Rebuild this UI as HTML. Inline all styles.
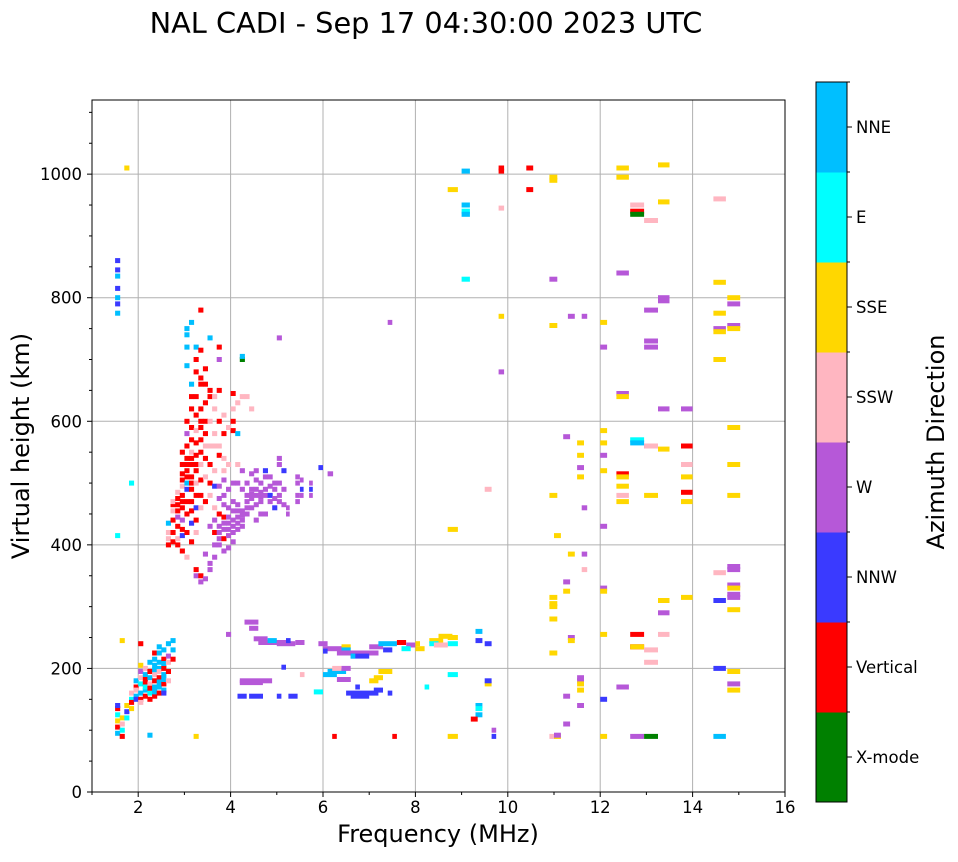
<!DOCTYPE html>
<html><head><meta charset="utf-8"><style>
body{margin:0;background:#fff;}
svg text{font-family:"DejaVu Sans","Liberation Sans",sans-serif;}
</style></head><body>
<svg id="chart" width="958" height="857" xmlns="http://www.w3.org/2000/svg">
<text x="426" y="33" font-size="28.8" text-anchor="middle">NAL CADI - Sep 17 04:30:00 2023 UTC</text>
<g id="grid"></g>
<g id="marks"></g>
<rect x="92" y="100" width="693" height="692" fill="none" stroke="#000" stroke-width="1"/>
<g id="axes"></g>
<text x="438" y="842" font-size="24" text-anchor="middle">Frequency (MHz)</text>
<text transform="translate(29,446) rotate(-90)" font-size="24" text-anchor="middle">Virtual height (km)</text>
<g id="cbar"></g>
<text transform="translate(944,442) rotate(-90)" font-size="24" text-anchor="middle">Azimuth Direction</text>
</svg>
<script>
const dirLabels=["X-mode","Vertical","NNW","W","SSW","SSE","E","NNE"];
const dirColors=["#008000","#ff0000","#3a3aff","#b658d8","#ffb6c1","#ffd700","#00ffff","#00bfff"];
const xTicks=[2,4,6,8,10,12,14,16];
const yTicks=[0,200,400,600,800,1000];
// point echoes grouped by frequency: [freq, spanMHz, [[height, dirIndex],...]]
const echoGroups=[
[1.5,0.11,[[95,7],[105,1],[115,5],[125,6],[135,1],[140,2],[775,7],[790,2],[800,7],[815,2],[835,7],[845,2],[860,2],[415,6]]],
[1.6,0.11,[[100,6],[110,4],[120,5],[90,1],[245,5]]],
[1.7,0.11,[[130,2],[120,6],[140,5],[1010,5]]],
[1.8,0.11,[[135,5],[150,6],[145,1],[160,4],[500,6]]],
[1.9,0.11,[[155,7],[170,1],[165,4],[150,2],[180,7]]],
[2.0,0.11,[[150,1],[160,7],[175,6],[185,4],[195,3],[205,5],[145,4],[240,1]]],
[2.1,0.11,[[155,1],[165,7],[175,1],[190,7],[200,4],[170,6],[182,1]]],
[2.2,0.11,[[150,1],[160,6],[175,4],[185,7],[195,1],[210,7],[92,7],[168,1]]],
[2.3,0.11,[[155,1],[170,7],[180,1],[190,4],[205,7],[215,7],[225,1],[162,7],[198,7]]],
[2.4,0.11,[[160,1],[170,7],[185,1],[200,7],[210,7],[225,7],[235,7],[195,4],[178,7]]],
[2.5,0.11,[[165,7],[175,1],[190,7],[215,1],[230,7],[160,2],[200,1],[182,7],[208,7]]],
[2.6,0.11,[[180,4],[195,1],[210,4],[240,7],[220,3],[400,1],[410,4],[420,4],[435,7]]],
[2.7,0.11,[[215,1],[230,7],[245,7],[405,1],[420,1],[440,1],[455,4],[465,1],[470,4]]],
[2.8,0.11,[[400,1],[410,4],[430,1],[445,3],[455,1],[475,1],[485,4],[465,1]]],
[2.9,0.11,[[390,1],[415,2],[425,1],[440,3],[460,1],[480,1],[495,4],[505,1],[515,1],[530,1],[550,1],[470,1]]],
[3.0,0.11,[[380,4],[420,1],[450,1],[470,1],[490,2],[500,7],[520,1],[540,1],[560,1],[580,3],[600,1],[690,7],[720,7],[740,7],[750,7],[510,1],[530,1]]],
[3.1,0.11,[[405,1],[435,2],[455,1],[470,1],[490,1],[510,1],[530,1],[550,4],[570,1],[590,1],[620,1],[640,1],[660,7],[760,7],[500,1],[540,1]]],
[3.2,0.11,[[350,3],[360,1],[420,4],[440,1],[460,2],[480,1],[500,4],[520,1],[545,1],[565,1],[585,4],[610,1],[640,1],[680,1],[700,1],[720,7],[90,5],[530,1]]],
[3.3,0.11,[[350,1],[340,3],[460,4],[480,1],[505,1],[530,4],[550,1],[570,1],[600,1],[620,1],[660,1],[670,1],[715,1],[780,1],[590,1]]],
[3.4,0.11,[[345,3],[385,3],[470,1],[510,4],[540,1],[560,4],[580,1],[600,1],[630,1],[660,1],[685,1]]],
[3.5,0.11,[[360,3],[370,3],[430,3],[480,4],[500,1],[530,1],[560,4],[600,4],[640,1],[650,1],[735,7]]],
[3.6,0.11,[[380,3],[400,3],[420,1],[440,3],[460,4],[495,2],[520,4],[560,4],[580,4],[620,4],[640,4]]],
[3.7,0.11,[[400,3],[410,3],[430,3],[450,1],[475,3],[495,3],[545,1],[560,4],[600,1],[650,1],[700,3],[720,1],[420,3]]],
[3.8,0.11,[[390,3],[410,1],[425,3],[445,1],[465,3],[480,3],[505,3],[520,4],[540,4],[580,1],[610,4],[435,3]]],
[3.9,0.11,[[395,3],[415,3],[435,3],[460,3],[490,3],[530,4],[590,4],[255,3],[425,3],[445,3]]],
[4.0,0.11,[[405,3],[420,3],[440,3],[470,3],[500,3],[585,1],[600,1],[620,4],[645,1],[430,3],[455,3]]],
[4.1,0.11,[[425,3],[445,3],[465,3],[500,3],[530,4],[580,7],[630,4],[435,3],[455,3]]],
[4.2,0.11,[[430,3],[440,3],[455,3],[490,3],[520,3],[700,0],[705,7],[640,4],[448,3]]],
[4.3,0.11,[[450,3],[470,3],[480,3],[500,3],[640,4],[460,3]]],
[4.4,0.11,[[460,3],[475,3],[490,3],[515,3],[620,4],[482,3]]],
[4.5,0.11,[[440,3],[465,3],[480,3],[505,3],[520,3],[490,3]]],
[4.6,0.11,[[470,3],[485,3],[500,3],[450,3],[478,3]]],
[4.7,0.11,[[450,3],[480,3],[490,3],[510,3],[520,2]]],
[4.8,0.11,[[470,3],[480,2],[495,3],[510,3]]],
[4.9,0.11,[[475,3],[490,3],[500,3],[460,2]]],
[5.0,0.11,[[470,3],[480,3],[500,3],[530,3],[540,3],[735,3]]],
[5.1,0.11,[[465,3],[490,3],[520,2]]],
[5.2,0.08,[[450,3],[460,3]]],
[5.4,0.1,[[470,3],[480,3],[510,3],[500,3]]],
[5.5,0.08,[[480,3],[490,2],[505,3]]],
[5.7,0.08,[[480,3],[490,2],[500,3]]],
[5.9,0.1,[[525,2]]],
[6.1,0.12,[[515,3]]],
[7.4,0.1,[[760,3]]],
[8.7,0.22,[[975,5],[425,5],[250,5],[240,6],[190,6],[90,5]]],
[9.0,0.18,[[1005,7],[950,7],[940,6],[935,7],[830,6]]],
[9.3,0.15,[[260,7],[245,2],[140,7],[135,6],[125,7]]],
[9.2,0.15,[[118,1]]],
[9.5,0.15,[[490,4],[175,5],[180,2],[240,2]]],
[9.8,0.12,[[1010,1],[1005,1],[945,4],[770,5],[680,3]]],
[9.65,0.1,[[90,2],[100,3]]],
[10.4,0.15,[[1010,1],[975,1]]],
[10.9,0.17,[[995,5],[990,5],[830,3],[755,5],[480,5],[315,5],[305,5],[300,5],[280,5],[225,5],[90,4]]],
[11.0,0.15,[[415,5],[90,5],[92,3]]],
[11.2,0.15,[[575,3],[340,3],[325,5],[155,3],[110,3]]],
[11.3,0.15,[[770,3],[385,5],[250,3],[245,5]]],
[11.5,0.15,[[565,5],[545,5],[525,3],[510,5],[185,3],[180,3],[175,5],[165,5],[140,3]]],
[11.6,0.12,[[770,3],[460,3],[385,3],[360,4]]],
[12.0,0.15,[[760,5],[720,3],[585,5],[565,5],[545,3],[520,5],[430,3],[330,3],[325,5],[255,5],[150,2],[90,5]]],
[12.35,0.27,[[1010,5],[995,5],[840,3],[645,3],[640,5],[515,1],[510,5],[495,5],[480,4],[470,5],[170,3]]],
[12.65,0.3,[[950,4],[940,1],[935,0],[570,6],[565,7],[255,1],[235,1],[235,5],[90,3]]],
[12.95,0.3,[[925,4],[780,3],[730,3],[720,3],[560,3],[560,4],[480,5],[230,4],[210,4],[90,0]]],
[13.25,0.25,[[1015,5],[955,5],[800,3],[795,3],[620,3],[555,5],[310,5],[290,3],[255,4]]],
[13.75,0.25,[[620,3],[560,1],[530,4],[510,5],[485,1],[470,5],[315,5]]],
[14.45,0.27,[[960,4],[825,5],[775,5],[750,3],[745,5],[700,5],[355,4],[310,2],[200,2],[90,7]]],
[14.75,0.28,[[800,5],[790,3],[755,3],[750,5],[590,5],[530,5],[480,5],[365,3],[360,3],[335,3],[330,5],[320,3],[315,3],[295,5],[195,5],[175,3],[165,5]]]
];
// layer traces: [freqStart, freqEnd, height, dirIndex]
const traceSegs=[
[4.3,4.6,275,3],[4.4,4.6,265,3],[4.5,4.8,248,3],[4.6,5.2,242,3],[4.8,5.0,245,7],[5.0,5.4,240,3],[5.2,5.3,245,2],[5.4,5.6,242,3],
[5.9,6.1,240,3],[6.0,6.4,232,3],[6.0,6.1,228,2],[6.4,6.6,235,5],[6.4,6.6,230,7],[6.3,7.2,225,3],[6.6,7.0,220,2],[7.0,7.3,235,3],
[7.2,7.6,240,7],[7.3,7.5,230,2],[7.6,7.8,242,1],[7.8,8.0,238,3],[7.7,7.9,232,6],[8.0,8.1,240,5],[8.0,8.2,232,5],[8.3,8.6,245,5],
[8.3,8.5,240,6],[8.4,8.7,238,4],[8.5,8.8,252,5],
[4.2,4.9,180,3],[4.2,4.7,177,3],[4.15,4.35,155,2],[4.4,4.7,155,2],[5.0,5.1,155,2],[5.25,5.45,155,2],[5.8,6.0,162,6],
[6.0,6.3,190,7],[6.1,6.5,195,7],[6.2,6.4,200,4],[6.4,6.6,200,3],[6.3,6.6,182,3],[6.5,7.2,160,2],[6.6,7.0,155,2],[6.7,6.8,170,2],
[7.1,7.3,165,2],[7.0,7.2,180,5],[7.1,7.3,185,5],[7.2,7.5,195,5],[7.4,7.5,160,2],[6.2,6.3,90,1],[7.5,7.6,90,1],[8.2,8.3,170,6],
[6.6,6.7,220,7],[5.5,5.6,190,4],[5.1,5.2,202,2]
];
const NS="http://www.w3.org/2000/svg";
const X0=92,X1=785,Y0=792,Y1=100,FMIN=1,FMAX=16,HMAX=1120;
function xs(f){return X0+(f-FMIN)/(FMAX-FMIN)*(X1-X0);}
function ys(h){return Y0-h/HMAX*(Y0-Y1);}
function mk(tag,attrs,parent){const e=document.createElementNS(NS,tag);for(const k in attrs)e.setAttribute(k,attrs[k]);parent.appendChild(e);return e;}
const grid=document.getElementById('grid'),axes=document.getElementById('axes'),marks=document.getElementById('marks'),cbar=document.getElementById('cbar');
xTicks.forEach(t=>{const x=xs(t);
 if(t<FMAX){const g=mk('line',{x1:x,x2:x,y1:Y1,y2:Y0,stroke:'#b0b0b0','stroke-width':1},grid);
 
 }
 mk('line',{x1:x,x2:x,y1:Y0,y2:Y0+5,stroke:'#000'},axes);
 const tx=mk('text',{x:x,y:Y0+21,'font-size':16.5,'text-anchor':'middle'},axes);tx.textContent=t;
 
 
});
for(let f=1;f<=16;f+=1){if(f%2){const x=xs(f);mk('line',{x1:x,x2:x,y1:Y0,y2:Y0+3,stroke:'#000'},axes);}}
yTicks.forEach(t=>{const y=ys(t);
 if(t>0){const g=mk('line',{x1:X0,x2:X1,y1:y,y2:y,stroke:'#b0b0b0','stroke-width':1},grid);
 
 }
 mk('line',{x1:X0-5,x2:X0,y1:y,y2:y,stroke:'#000'},axes);
 const tx=mk('text',{x:X0-10,y:y+6,'font-size':16.5,'text-anchor':'end'},axes);tx.textContent=t;
 
 
});
for(let h=50;h<=1100;h+=50){if(h%200){const y=ys(h);mk('line',{x1:X0-3,x2:X0,y1:y,y2:y,stroke:'#000'},axes);}}
function addMark(f0,f1,h,c){
 const x=xs(f0),w=Math.max(3,xs(f1)-xs(f0));
 const r=mk('rect',{x:x.toFixed(1),y:(ys(h)-2.5).toFixed(1),width:w.toFixed(1),height:5,fill:dirColors[c]},marks);
 
 
}
echoGroups.forEach(g=>{g[2].forEach(p=>addMark(g[0],g[0]+g[1],p[0],p[1]));});
traceSegs.forEach(s=>addMark(s[0],s[1],s[2],s[3]));
// colorbar
const CX=816,CW=31,CT=82,CB=802,seg=(CB-CT)/dirLabels.length;
dirLabels.forEach((lab,i)=>{
 const y=CB-(i+1)*seg;
 const r=mk('rect',{x:CX,y:y,width:CW,height:seg+0.5,fill:dirColors[i]},cbar);
 
 
 mk('line',{x1:CX+CW,x2:CX+CW+5,y1:y+seg/2,y2:y+seg/2,stroke:'#000'},cbar);
 mk('line',{x1:CX+CW,x2:CX+CW+3,y1:y,y2:y,stroke:'#000'},cbar);
 const t=mk('text',{x:CX+CW+9,y:y+seg/2+6,'font-size':16.5},cbar);t.textContent=lab;
 
 
});
mk('rect',{x:CX,y:CT,width:CW,height:CB-CT,fill:'none',stroke:'#000','stroke-width':1},cbar);
</script>
</body></html>
